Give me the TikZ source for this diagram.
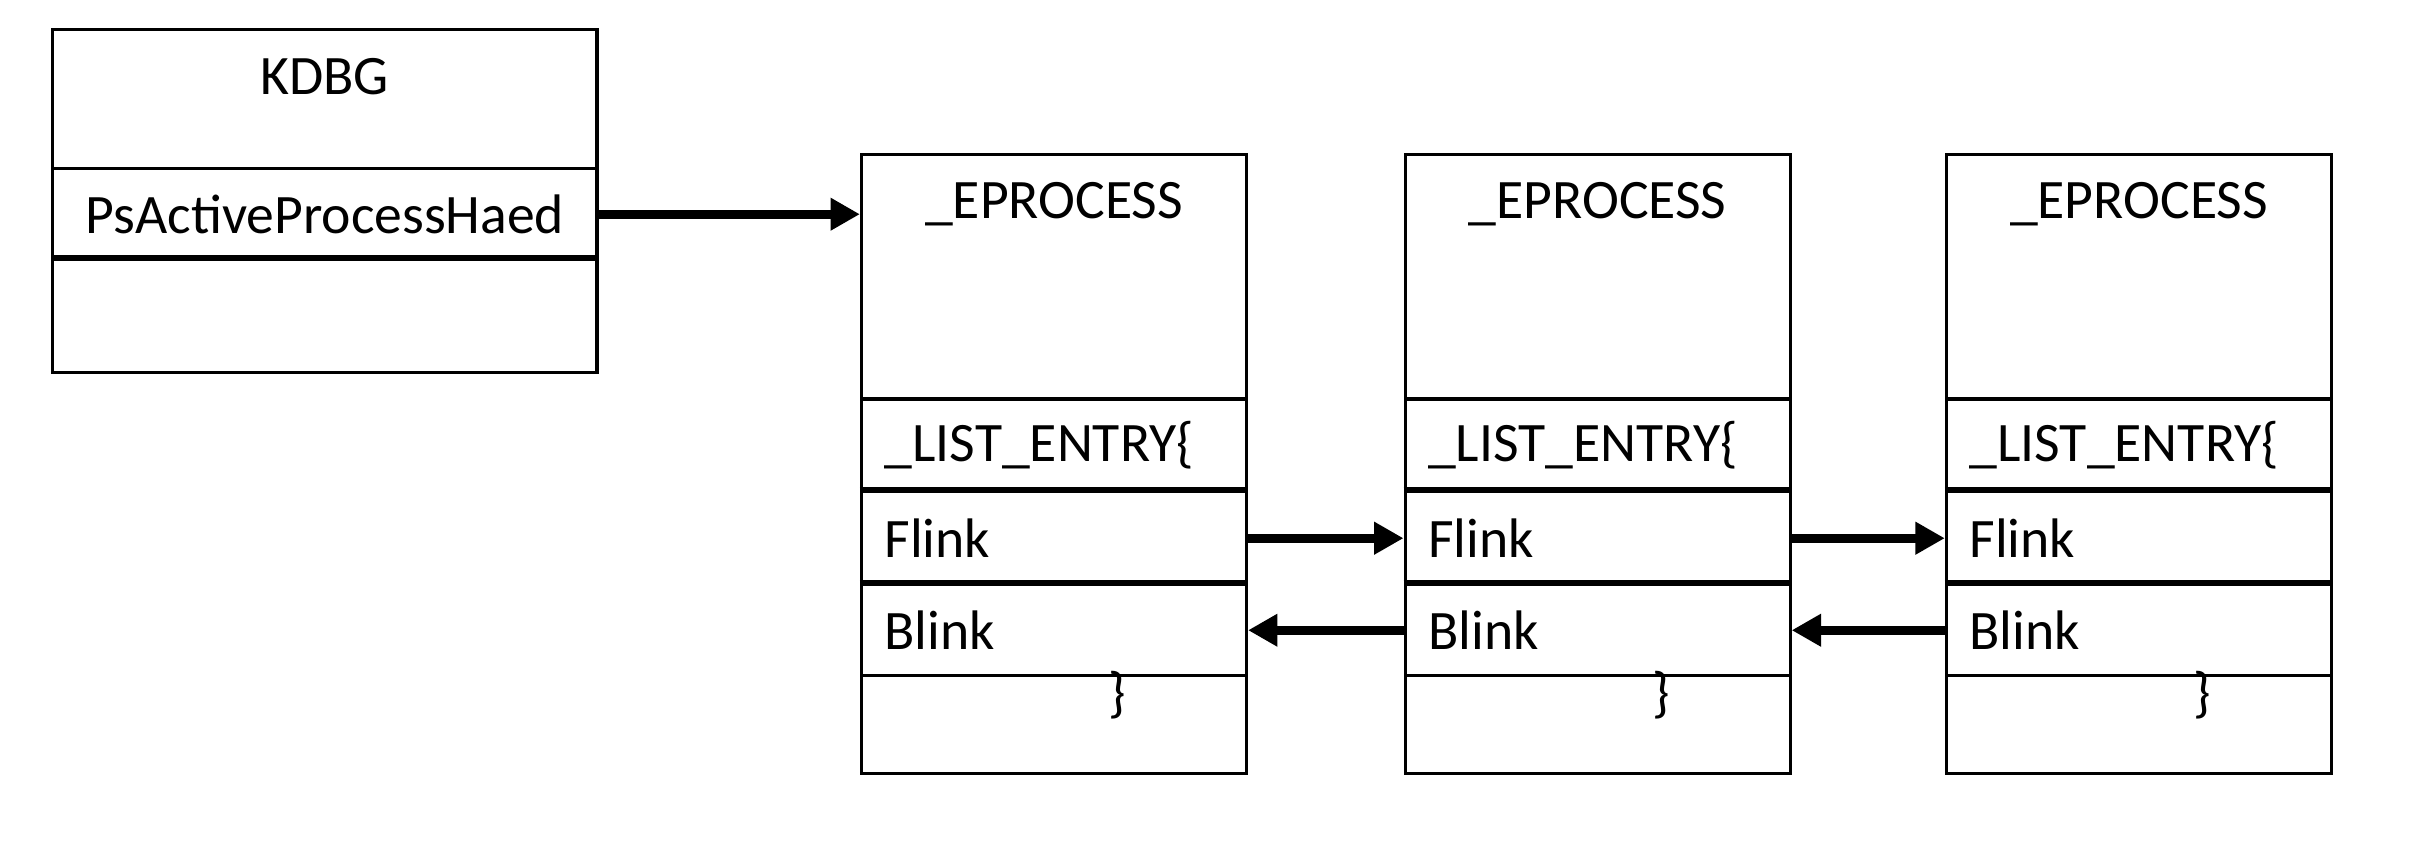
\documentclass[tikz,border=0pt]{standalone}
\usepackage{fontspec}
\setmainfont{Carlito}
\usetikzlibrary{arrows.meta,positioning}

\tikzset{
  box/.style={draw, line width=1pt, inner sep=0pt, minimum height=#1},
  wbox/.style={box=#1, minimum width=176pt},
  ebox/.style={box=#1, minimum width=124.5pt},
  field/.style={box=#1, inner xsep=7.5pt, text width=109.5pt, align=left},
  heavy/.style={line width=1.8pt},
  link/.style={-{Triangle[length=9.5pt,width=10pt]}, line width=2.8pt},
}

\begin{document}
\begin{tikzpicture}[x=0.5pt,y=-0.5pt,font=\fontsize{18}{21}\selectfont]

%%% canvas
\useasboundingbox (0,0) rectangle (1568,552);

% KDBG
\node[wbox=45pt] (kdbg) at (210,64) {};
\node[wbox=29.5pt] (psa) at (210,138.5) {PsActiveProcessHaed};
\node[wbox=36.5pt] (kdbgend) at (210,204.5) {};
\node[anchor=base] (kdbgtitle) at ([yshift=-21.5pt]kdbg.north) {KDBG};
\draw[heavy] (kdbgend.north west) -- (kdbgend.north east);

% _EPROCESS blocks
\foreach \i/\x in {1/681.5,2/1033,3/1383}{
  \node[ebox=79pt] (e\i-head) at (\x,179) {};
  \node[field=30pt] (e\i-list) at (\x,288) {\_LIST\_ENTRY\{};
  \node[field=30pt] (e\i-flink) at (\x,348) {Flink};
  \node[field=29.5pt] (e\i-blink) at (\x,407.5) {Blink};
  \node[ebox=31.5pt] (e\i-tail) at (\x,468.5) {};
  \node[anchor=base] (e\i-title) at ([yshift=-21pt]e\i-head.north) {\_EPROCESS};
  \node[anchor=base] (e\i-close) at ([xshift=20.5pt,yshift=-12pt]e\i-tail.north) {\}};
  \draw[heavy] (e\i-flink.north west) -- (e\i-flink.north east);
  \draw[heavy] (e\i-blink.north west) -- (e\i-blink.north east);
}

% list head
\draw[link] (psa.east) -- (psa.east -| e1-head.west);

% forward links
\draw[link] (e1-flink.east) -- (e2-flink.west);
\draw[link] (e2-flink.east) -- (e3-flink.west);

% backward links
\draw[link] (e2-blink.west) -- (e1-blink.east);
\draw[link] (e3-blink.west) -- (e2-blink.east);

\end{tikzpicture}
\end{document}
